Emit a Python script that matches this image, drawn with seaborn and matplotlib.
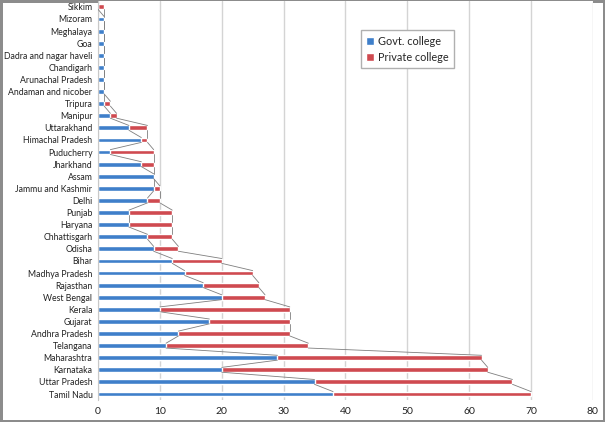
import matplotlib
matplotlib.use("Agg")
import matplotlib.pyplot as plt
import seaborn as sns
import pandas as pd

# states, listed top to bottom as in the chart
states = ["Sikkim", "Mizoram", "Meghalaya", "Goa", "Dadra and nagar haveli",
          "Chandigarh", "Arunachal Pradesh", "Andaman and nicober", "Tripura",
          "Manipur", "Uttarakhand", "Himachal Pradesh", "Puducherry", "Jharkhand",
          "Assam", "Jammu and Kashmir", "Delhi", "Punjab", "Haryana", "Chhattisgarh",
          "Odisha", "Bihar", "Madhya Pradesh", "Rajasthan", "West Bengal", "Kerala",
          "Gujarat", "Andhra Pradesh", "Telangana", "Maharashtra", "Karnataka",
          "Uttar Pradesh", "Tamil Nadu"]
govt = [0, 1, 1, 1, 1, 1, 1, 1, 1, 2, 5, 7, 2, 7, 9, 9, 8, 5, 5, 8, 9, 12,
        14, 17, 20, 10, 18, 13, 11, 29, 20, 35, 38]
private = [1, 0, 0, 0, 0, 0, 0, 0, 1, 1, 3, 1, 7, 2, 0, 1, 2, 7, 7, 4, 4, 8,
           11, 9, 7, 21, 13, 18, 23, 33, 43, 32, 32]

blue = "#3f7fca"
red = "#cf4a50"
bar_h = 0.4

df = pd.DataFrame({"state": states, "govt": govt, "private": private})
df["total"] = df["govt"] + df["private"]

sns.set_style("white")
plt.rcParams["font.family"] = ["Lato", "DejaVu Sans"]

fig = plt.figure(figsize=(6.05, 4.22), dpi=100)
fig.patch.set_edgecolor("#8c8c8c")
fig.patch.set_linewidth(2.5)
ax = fig.add_axes([0.162, 0.052, 0.818, 0.946])

sns.barplot(data=df, y="state", x="total", color=red, width=bar_h,
            saturation=1, orient="h", ax=ax, label="Private college")
sns.barplot(data=df, y="state", x="govt", color=blue, width=bar_h,
            saturation=1, orient="h", ax=ax, label="Govt. college")

# series lines joining bar ends from one state to the next
for col in ["govt", "total"]:
    vals = df[col].tolist()
    for i in range(len(vals) - 1):
        ax.plot([vals[i], vals[i + 1]], [i + bar_h / 2, i + 1 - bar_h / 2],
                color="#7f7f7f", linewidth=0.6, zorder=3)

ax.set_xlim(0, 80)
ax.set_ylim(len(states) - 0.5, -0.5)
ax.set_xticks(range(0, 81, 10))
ax.grid(axis="x", color="#d4d4d4", linewidth=1)
ax.set_axisbelow(True)
ax.set_xlabel("")
ax.set_ylabel("")
ax.tick_params(axis="both", length=0, colors="#222222")
ax.tick_params(axis="x", labelsize=7.5, pad=5)
ax.tick_params(axis="y", labelsize=6.3, pad=4)
for s in ["top", "right", "bottom"]:
    ax.spines[s].set_visible(False)
ax.spines["left"].set_color("#c8c8c8")

handles, labels = ax.get_legend_handles_labels()
order = [labels.index("Govt. college"), labels.index("Private college")]
ax.legend([handles[k] for k in order], [labels[k] for k in order],
          loc="upper left", bbox_to_anchor=(0.52, 0.94), fontsize=7.8,
          frameon=True, fancybox=False, edgecolor="#b0b0b0", framealpha=1,
          handlelength=0.7, handleheight=0.7, handletextpad=0.4,
          borderpad=0.5, labelspacing=0.5)

fig.savefig("out.png", dpi=100)
